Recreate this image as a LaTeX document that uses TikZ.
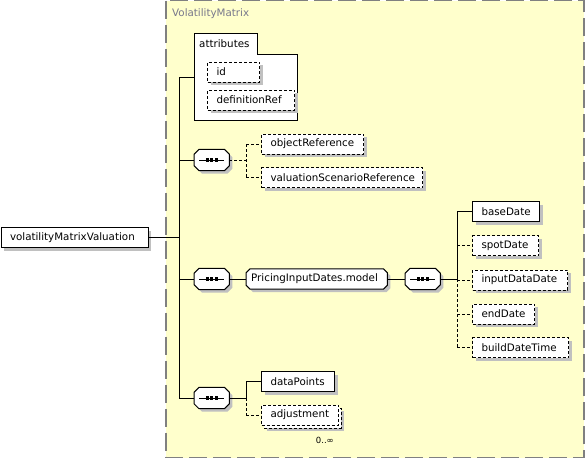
\documentclass[tikz,border=0pt]{standalone}
\usepackage{fontspec}
\setmainfont{DejaVu Sans}
\definecolor{bgyel}{RGB}{255,255,204}
\definecolor{bordergray}{RGB}{128,128,128}
\definecolor{shadowgray}{RGB}{192,192,192}
\definecolor{titlegray}{RGB}{120,120,140}
\pgfdeclarelayer{back}
\pgfdeclarelayer{mid}
\pgfsetlayers{back,mid,main}
\newcommand\octpath[2]{([xshift=#2]#1.north west) -- ([xshift=-#2]#1.north east) -- ([yshift=-#2]#1.north east) -- ([yshift=#2]#1.south east) -- ([xshift=-#2]#1.south east) -- ([xshift=#2]#1.south west) -- ([yshift=#2]#1.south west) -- ([yshift=-#2]#1.north west) -- cycle}
\begin{document}
\begin{tikzpicture}[x=1pt,y=-1pt,
  txt/.style={font=\fontsize{10.3}{12}\selectfont},
  shadowed/.style={preaction={draw=none, fill=shadowgray, transform canvas={xshift=3pt,yshift=-3pt}}},
  box/.style={txt, draw, fill=white, line width=1pt, anchor=west, minimum height=20pt, inner xsep=9pt, inner ysep=0pt, text width=#1, align=left},
  elem/.style={box=#1, shadowed},
  opt/.style={dash pattern=on 3pt off 2pt},
  conn/.style={line width=1pt},
  octo/.style={line width=1pt, fill=white, shadowed},
  seqc/.style={minimum width=35pt, minimum height=21pt, inner sep=0pt, anchor=west},
  grp/.style={txt, minimum height=20pt, inner xsep=5pt, inner ysep=0pt, text width=#1, align=left, anchor=west}
]
\useasboundingbox (0,0) rectangle (585,459);
% container
\begin{pgfonlayer}{back}
\draw[fill=bgyel, draw=bordergray, line width=1.2pt, dash pattern=on 18pt off 6pt] (166,0.6) rectangle (584,457.5);
\end{pgfonlayer}
\node[txt, anchor=west, inner sep=0pt, text=titlegray] (title) at (172,14) {VolatilityMatrix};

% attributes
\draw[line width=1pt, fill=white] (194,33) -- (257,33) -- (257,54) -- (297,54) -- (297,120) -- (194,120) -- cycle;
\node[txt, anchor=west, inner sep=0pt] (attrlabel) at (199,44) {attributes};
\coordinate (attrIn) at (194,77);
\node[elem=34pt, opt] (id) at (207,72) {\mbox{id}};
\node[elem=69pt, opt] (defRef) at (207,100) {\mbox{definitionRef}};

% root
\node[elem=129pt] (vmv) at (0.5,237.5) {\mbox{volatilityMatrixValuation}};
\coordinate (trunk) at (179,0);

% sequence 1
\node[seqc] (s1) at (194,160) {};
\coordinate (b1) at (246,0);
\node[elem=84pt, opt] (objRef) at (261,144) {\mbox{objectReference}};
\node[elem=143pt, opt] (vsr) at (261,177.5) {\mbox{valuationScenarioReference}};

% sequence 2
\node[seqc] (s2) at (194,279) {};
\node[grp=131pt] (pid) at (246,279) {\mbox{PricingInputDates.model}};
\node[seqc] (s3) at (405,279) {};
\coordinate (b3) at (457,0);
\node[elem=49pt] (baseDate) at (472,211.5) {\mbox{baseDate}};
\node[elem=48pt, opt] (spotDate) at (472,245.5) {\mbox{spotDate}};
\node[elem=77pt, opt] (inputDataDate) at (472,280) {\mbox{inputDataDate}};
\node[elem=44pt, opt] (endDate) at (472,314) {\mbox{endDate}};
\node[elem=78pt, opt] (buildDateTime) at (472,347.5) {\mbox{buildDateTime}};

% sequence 4
\node[seqc] (s4) at (194,398) {};
\coordinate (b4) at (246,0);
\node[elem=55pt] (dataPoints) at (261,381.5) {\mbox{dataPoints}};
\draw[line width=1pt, opt, fill=white, shadowed] (264,408) rectangle (341,428);
\node[box=59pt, opt] (adj) at (261,415) {\mbox{adjustment}};
\node[anchor=east, inner sep=0pt, font=\fontsize{8.5}{10}\selectfont] (card) at (334,440) {0..∞};

% octagonal outlines (compositors and group reference)
\begin{pgfonlayer}{mid}
\foreach \s in {s1,s2,s3,s4}
  \draw[octo] \octpath{\s}{5pt};
\draw[octo] \octpath{pid}{4pt};
\end{pgfonlayer}

% connectors
\draw[conn] (vmv.east) -- (vmv.east -| trunk);
\draw[conn] (attrIn -| trunk) -- (s4.west -| trunk);
\draw[conn] (attrIn -| trunk) -- (attrIn);
\draw[conn] (s1.west -| trunk) -- (s1.west);
\draw[conn] (s2.west -| trunk) -- (s2.west);
\draw[conn] (s4.west -| trunk) -- (s4.west);

\draw[conn,opt] (s1.east) -- (s1.east -| b1);
\draw[conn,opt] (objRef.west -| b1) -- (vsr.west -| b1);
\draw[conn,opt] (objRef.west -| b1) -- (objRef.west);
\draw[conn,opt] (vsr.west -| b1) -- (vsr.west);

\draw[conn] (s2.east) -- (pid.west);
\draw[conn] (pid.east) -- (s3.west);
\draw[conn] (s3.east) -- (s3.east -| b3);
\draw[conn] (baseDate.west -| b3) -- (s3.east -| b3);
\draw[conn,opt] (s3.east -| b3) -- (buildDateTime.west -| b3);
\draw[conn] (baseDate.west -| b3) -- (baseDate.west);
\foreach \n in {spotDate,inputDataDate,endDate,buildDateTime}
  \draw[conn,opt] (\n.west -| b3) -- (\n.west);

\draw[conn] (s4.east) -- (s4.east -| b4);
\draw[conn] (dataPoints.west -| b4) -- (s4.east -| b4);
\draw[conn,opt] (s4.east -| b4) -- (adj.west -| b4);
\draw[conn] (dataPoints.west -| b4) -- (dataPoints.west);
\draw[conn,opt] (adj.west -| b4) -- (adj.west);

% compositor symbols
\foreach \s in {s1,s2,s3,s4} {
  \draw[line width=1pt] ([xshift=5pt]\s.west) -- ([xshift=-5pt]\s.east);
  \foreach \dx in {-4.5,0,4.5}
    \fill ([xshift=\dx*1pt]\s.center) ++(-1.7pt,-1.7pt) rectangle ++(3.4pt,3.4pt);
}
\end{tikzpicture}
\end{document}
